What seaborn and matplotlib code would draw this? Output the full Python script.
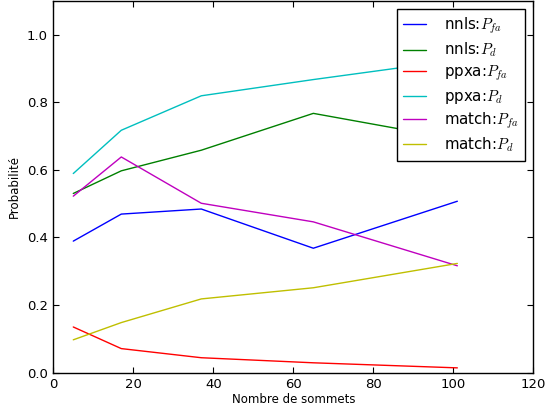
import matplotlib
matplotlib.use('Agg')
import matplotlib.pyplot as plt
import seaborn as sns
import pandas as pd

# nombre de sommets
sommets = [5, 17, 37, 65, 101]

nnls_pfa = [0.389, 0.469, 0.484, 0.368, 0.507]
nnls_pd = [0.530, 0.597, 0.658, 0.767, 0.690]
ppxa_pfa = [0.135, 0.071, 0.044, 0.029, 0.014]
ppxa_pd = [0.589, 0.717, 0.819, 0.867, 0.925]
match_pfa = [0.522, 0.638, 0.501, 0.446, 0.316]
match_pd = [0.097, 0.148, 0.218, 0.251, 0.323]

labels = [r'nnls:$P_{fa}$', r'nnls:$P_d$', r'ppxa:$P_{fa}$',
          r'ppxa:$P_d$', r'match:$P_{fa}$', r'match:$P_d$']
series = [nnls_pfa, nnls_pd, ppxa_pfa, ppxa_pd, match_pfa, match_pd]
colors = ['#0000ff', '#008000', '#ff0000', '#00bfbf', '#bf00bf', '#bfbf00']

rows = []
for lab, vals in zip(labels, series):
    for x, v in zip(sommets, vals):
        rows.append({'sommets': x, 'proba': v, 'serie': lab})
df = pd.DataFrame(rows)

sns.set_style('ticks')
plt.rcParams['font.family'] = ['DejaVu Sans']
plt.rcParams['mathtext.fontset'] = 'cm'
plt.rcParams['text.color'] = 'black'
plt.rcParams['axes.labelcolor'] = 'black'
plt.rcParams['xtick.color'] = 'black'
plt.rcParams['ytick.color'] = 'black'

fig, ax = plt.subplots(figsize = (5.55, 4.09), dpi = 100)
fig.subplots_adjust(left = 0.096, right = 0.961, bottom = 0.089, top = 0.998)

sns.lineplot(data = df, x = 'sommets', y = 'proba', hue = 'serie',
             hue_order = labels, palette = colors, linewidth = 1, ax = ax)

ax.set_xlim(0, 120)
ax.set_ylim(0, 1.1)
ax.set_yticks([0.0, 0.2, 0.4, 0.6, 0.8, 1.0])
ax.set_xlabel('Nombre de sommets', fontsize = 8.5, labelpad = 1)
ax.set_ylabel('Probabilité', fontsize = 8.5, labelpad = 4)
ax.tick_params(direction = 'in', top = True, right = True, labelsize = 9.5,
               length = 4, width = 0.8, pad = 4)
for s in ax.spines.values():
    s.set_linewidth(1)
    s.set_color('black')

leg = ax.legend(loc = 'upper right', fontsize = 10.8, fancybox = False,
                framealpha = 1, handlelength = 1.5, borderaxespad = 0.55,
                labelspacing = 0.3, handletextpad = 1.2, borderpad = 0.45)
leg.get_frame().set_edgecolor('black')
leg.get_frame().set_linewidth(1)

fig.savefig('out.png', dpi = 100)
